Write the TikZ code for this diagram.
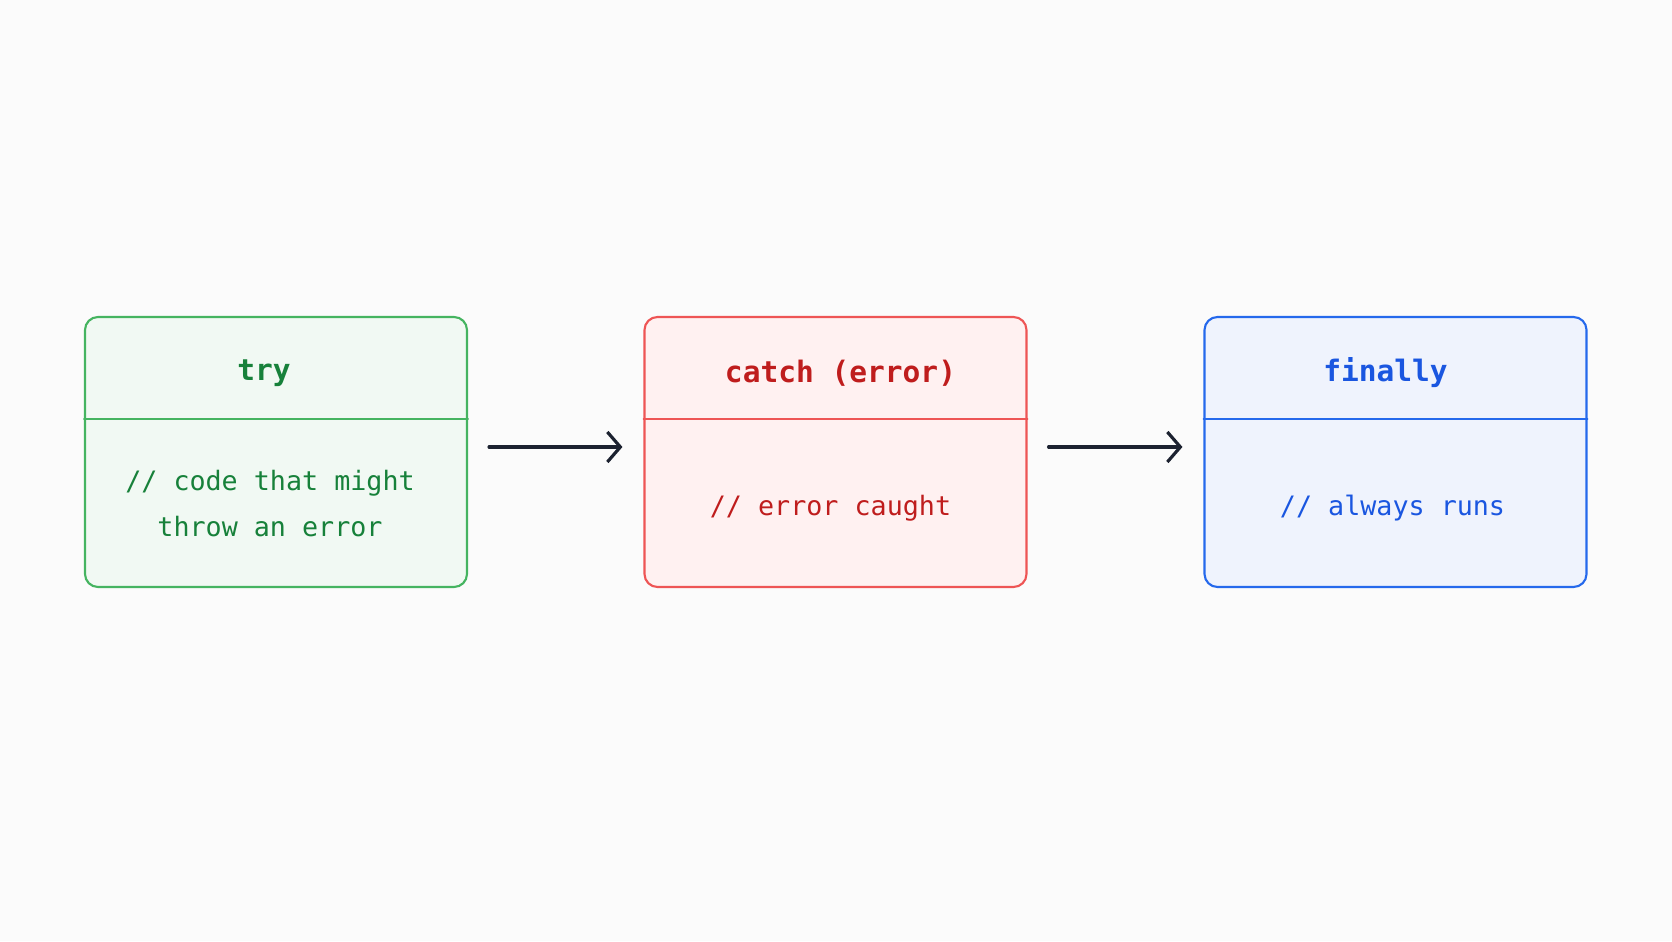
\documentclass[tikz,border=0pt]{standalone}
\usepackage{fontspec}
\setmonofont{DejaVu Sans Mono}
\usetikzlibrary{arrows.meta}
\definecolor{bgcol}{HTML}{FBFBFB}
\definecolor{tryline}{HTML}{45B460}
\definecolor{tryfill}{HTML}{F1F9F3}
\definecolor{trytext}{HTML}{17813A}
\definecolor{catchline}{HTML}{EE5555}
\definecolor{catchfill}{HTML}{FFF1F1}
\definecolor{catchtext}{HTML}{BF1D1D}
\definecolor{finline}{HTML}{2569EC}
\definecolor{finfill}{HTML}{EFF3FD}
\definecolor{fintext}{HTML}{1A56E0}
\definecolor{arrowcol}{HTML}{1C2230}
\tikzset{
  block/.style={draw=#1line, fill=#1fill, line width=0.6pt, rounded corners=0.13cm,
    minimum width=3.82cm, minimum height=2.70cm, inner sep=0pt},
  title/.style={text=#1text, font=\ttfamily\bfseries\fontsize{8.4}{10}\selectfont},
  body/.style={text=#1text, font=\ttfamily\fontsize{7.6}{13.1}\selectfont, align=center},
  flow/.style={draw=arrowcol, line width=0.9pt, -{Straight Barb[length=0.13cm, width=0.30cm, line width=0.9pt]},
    shorten <=0.21cm, shorten >=0.21cm}
}
\begin{document}
\begin{tikzpicture}[line join=round, line cap=round]
  \useasboundingbox[fill=bgcol] (0,0) rectangle (16.72,9.41);
  % box / centre x / colour / title shift / title / body shift / body y / body
  \foreach \n/\x/\c/\tx/\t/\bx/\by/\b in {try/2.76/try/-0.12/{try}/-0.06/4.37/{// code that might\\throw an error},
      catch/8.355/catch/0.05/{catch (error)}/-0.05/4.33/{// error caught},
      fin/13.955/fin/-0.10/{finally}/-0.03/4.33/{// always runs}} {
    \node[block=\c] (\n Box) at (\x, 4.89) {};
    \draw[draw=\c line, line width=0.5pt] (\n Box.west |- 0,5.22) -- (\n Box.east |- 0,5.22);
    \node[title=\c] (\n Title) at (\x+\tx, 5.68) {\t};
    \node[body=\c] (\n Body) at (\x+\bx, \by) {\b};
  }
  \draw[flow] ([yshift=0.05cm]tryBox.east) -- ([yshift=0.05cm]catchBox.west);
  \draw[flow] ([yshift=0.05cm]catchBox.east) -- ([yshift=0.05cm]finBox.west);
\end{tikzpicture}
\end{document}
